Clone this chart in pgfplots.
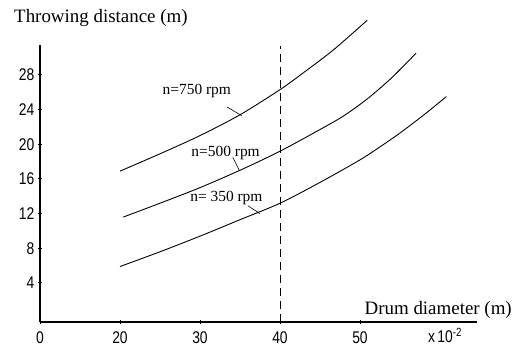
\documentclass[border=0pt]{standalone}
\usepackage{fontspec}
\setmainfont{Liberation Serif}
\newfontfamily\tickfont{Liberation Sans}
\usepackage{pgfplots}
\pgfplotsset{compat=1.18}
\begin{document}
\begin{tikzpicture}
\useasboundingbox (-40bp,-27bp) rectangle (474bp,322bp);
\begin{axis}[
  x=8bp, y=8.67bp,
  xmin=10, xmax=64.6, ymin=-0.5, ymax=31.5,
  axis lines*=left,
  axis line style={line width=1.5bp, black},
  clip=false,
  xtick={10,20,30,40,50}, xticklabels={0,20,30,40,50},
  ytick={4,8,12,16,20,24,28},
  tick align=center, major tick length=4bp,
  tick style={black, line width=1bp},
  ticklabel style={font=\tickfont\fontsize{17}{17}\selectfont, xscale=0.82},
  xticklabel style={yshift=-4bp},
  yticklabel style={xshift=-1bp},
  /pgf/number format/assume math mode=true,
]
\addplot[black, line width=0.9pt, smooth] coordinates {
 (20,16.9) (25,18.9) (30,21.0) (35,23.4) (40,26.3) (43,28.3) (46.7,30.9) (50.9,34.3)};
\addplot[black, line width=0.9pt, smooth] coordinates {
 (20.4,11.6) (25,13.2) (30,15.0) (35,17.0) (40,19.2) (45,21.7) (48,23.3) (51,25.3) (54,27.7) (57,30.5)};
\addplot[black, line width=0.9pt, smooth] coordinates {
 (20,5.9) (25,7.6) (30,9.4) (35,11.3) (40,13.2) (45,15.6) (50,18.2) (52.5,19.7) (55,21.3) (58,23.4) (60.8,25.5)};
\addplot[black, line width=0.8pt, dash pattern=on 8bp off 5bp] coordinates {(40,-0.5) (40,31.3)};
% leader lines
\addplot[black, line width=0.6pt] coordinates {(33.4,24.3) (35.2,23.3)};
\addplot[black, line width=0.6pt] coordinates {(34.1,18.5) (34.9,17.0)};
\addplot[black, line width=0.6pt] coordinates {(36.0,12.9) (37.5,12.0)};
\node[font=\fontsize{15.5}{15.5}\selectfont] at (axis cs:29.6,26.1) {n=750 rpm};
\node[font=\fontsize{15.5}{15.5}\selectfont] at (axis cs:33.2,19.0) {n=500 rpm};
\node[font=\fontsize{15.5}{15.5}\selectfont] at (axis cs:33.3,13.8) {n= 350 rpm};
\node[anchor=base west, inner sep=0pt, font=\fontsize{19}{19}\selectfont] at (axis cs:6.75,34.0) {Throwing distance (m)};
\node[anchor=base east, inner sep=0pt, font=\fontsize{19}{19}\selectfont] at (axis cs:69,0.31) {Drum diameter (m)};
\node[anchor=base west, inner sep=0pt, font=\tickfont\fontsize{17}{17}\selectfont, xscale=0.82] at (axis cs:58.5,-2.92) {x\,10\textsuperscript{-2}};
\end{axis}
\end{tikzpicture}
\end{document}
